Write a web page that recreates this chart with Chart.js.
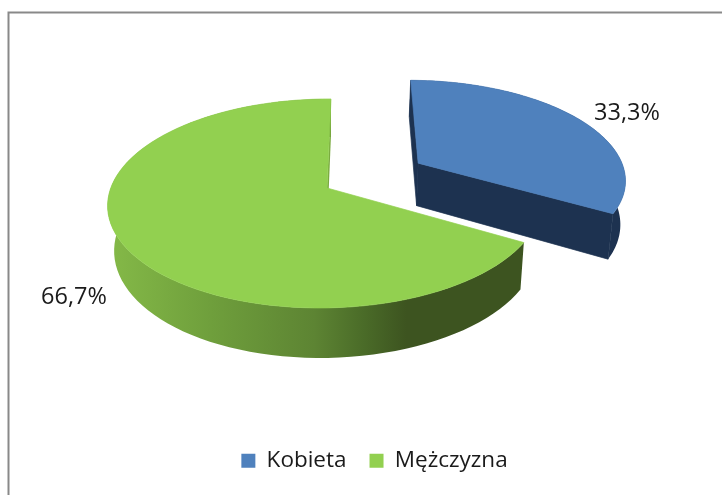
<!DOCTYPE html>
<html lang="pl">
<head>
<meta charset="utf-8">
<title>Kobieta / Mężczyzna</title>
<script src="https://cdn.jsdelivr.net/npm/chart.js@4"></script>
<style>
  html, body { margin: 0; padding: 0; background: #fff; overflow: hidden; }
  canvas { display: block; }
</style>
</head>
<body>
<canvas id="pieChart" width="722" height="495"></canvas>
<script>
'use strict';

// data
const labels = ['Kobieta', 'Mężczyzna'];
const values = [33.3, 66.7];
const explode = [0.505, 0];      // slice pull-out, in pie radii
const topColors = ['#4f81bd', '#92d050'];

// text positions of the two percent labels (centre)
const labelPos = [[627, 113], [74, 297]];

// ground plane -> screen, fitted on the picture
const view = { cx: 327, cy: 188, s: 214.5, m: -4.6, t: 102.2, k: 0.148, h: 0.008 };

function project(x, y) {
  const w = 1 - view.k * y + view.h * x;
  return [view.cx + (view.s * x + view.m * y) / w, view.cy + view.t * y / w];
}

// same point at the bottom of the slab
function projectLow(x, y) {
  const p = project(x, y);
  const f = p[0] < 325 ? 0.97 : 0.983;
  return [325 + (p[0] - 325) * f, p[1] + 44 + 6 * y];
}

function addPoly(ctx, pts) {
  pts.forEach((p, i) => (i ? ctx.lineTo(p[0], p[1]) : ctx.moveTo(p[0], p[1])));
  ctx.closePath();
}

function trace(ctx, pts) {
  ctx.beginPath();
  addPoly(ctx, pts);
}

function sideGradient(ctx, i) {
  if (i === 0) return '#1d3250';
  const g = ctx.createLinearGradient(106, 0, 523, 0);
  g.addColorStop(0, '#85ba48');
  g.addColorStop(0.25, '#6f9f3c');
  g.addColorStop(0.5, '#5d8433');
  g.addColorStop(0.62, '#4a6b28');
  g.addColorStop(0.72, '#3d5420');
  g.addColorStop(1, '#3d5420');
  return g;
}

const pie3d = {
  id: 'pie3d',
  beforeDraw(chart) {
    // outer frame, right and bottom run off the picture
    const ctx = chart.ctx;
    ctx.save();
    ctx.strokeStyle = '#898989';
    ctx.lineWidth = 2;
    ctx.beginPath();
    ctx.moveTo(8.5, 500);
    ctx.lineTo(8.5, 12.5);
    ctx.lineTo(730, 12.5);
    ctx.stroke();
    ctx.restore();
  },
  beforeDatasetsDraw(chart) {
    const ctx = chart.ctx;
    const arcs = chart.getDatasetMeta(0).data;
    arcs.forEach((arc, i) => {
      const mid = (arc.startAngle + arc.endAngle) / 2;
      const ox = Math.cos(mid) * explode[i];
      const oy = Math.sin(mid) * explode[i];
      const rim = [];
      const n = 90;
      for (let j = 0; j <= n; j++) {
        const a = arc.startAngle + (arc.endAngle - arc.startAngle) * j / n;
        rim.push([ox + Math.cos(a), oy + Math.sin(a)]);
      }
      const first = rim[0];
      const last = rim[n];
      const sideColor = i === 0 ? '#1d3250' : '#7aab3f';

      ctx.save();
      ctx.lineWidth = 0.7;
      // curved outer wall, all strips in one path so no seams show
      ctx.fillStyle = sideGradient(ctx, i);
      ctx.beginPath();
      for (let j = 0; j < n; j++) {
        const a = rim[j];
        const b = rim[j + 1];
        addPoly(ctx, [project(a[0], a[1]), project(b[0], b[1]), projectLow(b[0], b[1]), projectLow(a[0], a[1])]);
      }
      ctx.fill();
      // flat cut faces, the green start edge faces away
      ctx.fillStyle = sideColor;
      ctx.strokeStyle = sideColor;
      if (i === 0) {
        trace(ctx, [project(ox, oy), project(first[0], first[1]), projectLow(first[0], first[1]), projectLow(ox, oy)]);
        ctx.fill();
        ctx.stroke();
      }
      trace(ctx, [project(ox, oy), project(last[0], last[1]), projectLow(last[0], last[1]), projectLow(ox, oy)]);
      ctx.fill();
      if (i === 0) ctx.stroke();
      // top face
      ctx.fillStyle = arc.options.backgroundColor;
      ctx.strokeStyle = arc.options.backgroundColor;
      trace(ctx, [project(ox, oy)].concat(rim.map((p) => project(p[0], p[1]))));
      ctx.fill();
      ctx.stroke();
      ctx.restore();
    });

    ctx.save();
    ctx.fillStyle = '#1a1a1a';
    ctx.font = '23.5px "Open Sans"';
    ctx.textAlign = 'center';
    ctx.textBaseline = 'middle';
    values.forEach((v, i) => {
      ctx.fillText(v.toFixed(1).replace('.', ',') + '%', labelPos[i][0], labelPos[i][1]);
    });
    ctx.restore();
    return false; // slab above replaces the flat arcs
  },
};

new Chart(document.getElementById('pieChart').getContext('2d'), {
  type: 'pie',
  data: {
    labels,
    datasets: [{ data: values, backgroundColor: topColors, borderWidth: 0 }],
  },
  options: {
    responsive: false,
    animation: false,
    events: [],
    layout: { padding: { left: 27, bottom: 13 } },
    plugins: {
      tooltip: { enabled: false },
      legend: {
        position: 'bottom',
        labels: {
          boxWidth: 14,
          boxHeight: 14,
          padding: 23,
          color: '#1a1a1a',
          font: { family: 'Open Sans', size: 22.5 },
        },
      },
    },
  },
  plugins: [pie3d],
});
</script>
</body>
</html>
